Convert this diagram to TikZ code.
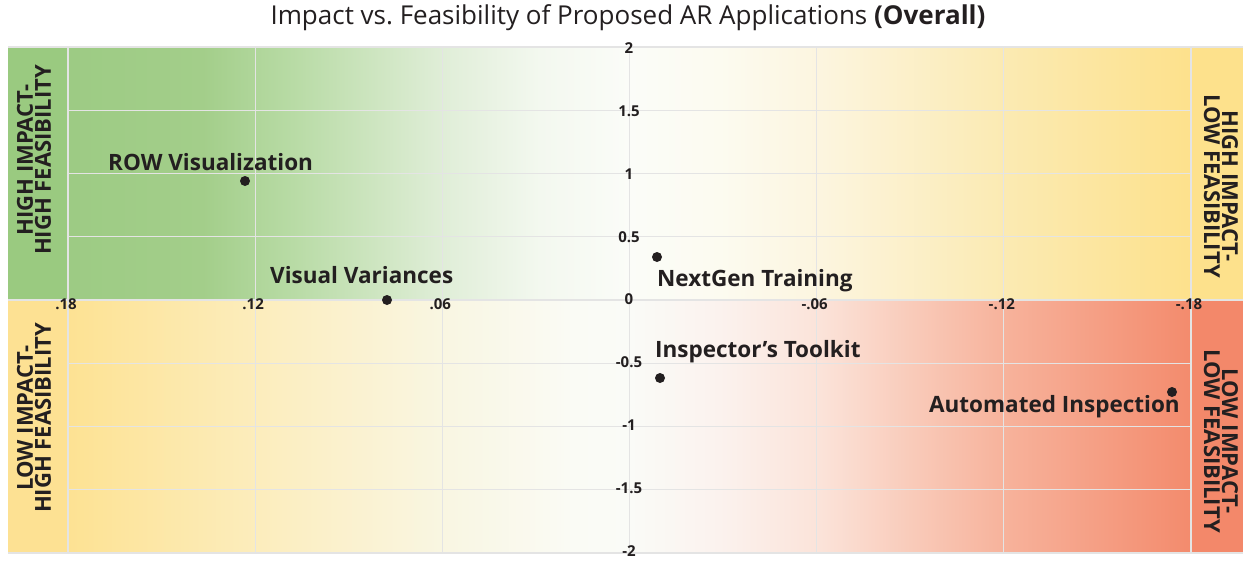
\documentclass[tikz,border=0pt]{standalone}
\usepackage{fontspec}
\setmainfont{Open Sans}
\frenchspacing

\definecolor{ink}{HTML}{231F20}
\definecolor{gridgray}{HTML}{E4E4E4}
% bands
\definecolor{hiG}{HTML}{9ACA80}
\definecolor{loY}{HTML}{FDE193}
\definecolor{hiY}{HTML}{FDE18C}
\definecolor{loR}{HTML}{F3886A}
% upper fade
\definecolor{tA}{HTML}{9DCB84}
\definecolor{tB}{HTML}{A3CE8A}
\definecolor{tC}{HTML}{B8DBA5}
\definecolor{tD}{HTML}{E0EED8}
\definecolor{tE}{HTML}{F3F8EF}
\definecolor{tF}{HTML}{FBFCF8}
\definecolor{tG}{HTML}{FCFBF0}
\definecolor{tH}{HTML}{FCF5DF}
\definecolor{tI}{HTML}{FBEAB2}
\definecolor{tJ}{HTML}{FDE18C}
% lower fade
\definecolor{bA}{HTML}{FDE293}
\definecolor{bB}{HTML}{FCEDBD}
\definecolor{bC}{HTML}{F9F6E2}
\definecolor{bD}{HTML}{FAFBF5}
\definecolor{bE}{HTML}{FAFBF7}
\definecolor{bF}{HTML}{FBF2EE}
\definecolor{bG}{HTML}{FBE3D9}
\definecolor{bH}{HTML}{F9CBBA}
\definecolor{bI}{HTML}{F7B29B}
\definecolor{bJ}{HTML}{F38B6D}

\pgfdeclarehorizontalshading{highfade}{100bp}{color(0bp)=(tA); color(25bp)=(tA);
  color(31bp)=(tB); color(35bp)=(tC); color(41.75bp)=(tD); color(46bp)=(tE);
  color(50bp)=(tF); color(54bp)=(tG); color(58.5bp)=(tH); color(66.75bp)=(tI);
  color(75bp)=(tJ); color(100bp)=(tJ)}
\pgfdeclarehorizontalshading{lowfade}{100bp}{color(0bp)=(bA); color(25bp)=(bA);
  color(33.5bp)=(bB); color(41.75bp)=(bC); color(47.5bp)=(bD); color(50bp)=(bE);
  color(54bp)=(bF); color(58.5bp)=(bG); color(62.5bp)=(bH); color(66.75bp)=(bI);
  color(75bp)=(bJ); color(100bp)=(bJ)}

\begin{document}
\begin{tikzpicture}[x=1pt,y=-1pt,
    grid/.style={draw=gridgray,line width=1.2pt},
    tick/.style={font=\bfseries\fontsize{15}{15}\selectfont,text=ink,inner sep=0pt},
    dot/.style={circle,fill=ink,inner sep=0pt,minimum size=10pt},
    app/.style={font=\bfseries\fontsize{22.5}{22.5}\selectfont,text=ink,inner sep=0pt},
    quad/.style={font=\bfseries\fontsize{22}{18}\selectfont,text=ink,align=center,inner sep=0pt}]
  \useasboundingbox (0,0) rectangle (1243,560);
  \fill[white] (0,0) rectangle (1243,560);
  %% title
  \node[font=\fontsize{26}{26}\selectfont,text=ink] (title) at (628,18)
    {Impact vs. Feasibility of Proposed AR Applications \textbf{(Overall)}};
  %% quadrant bands
  \fill[hiG] (8,47) rectangle (68,300);
  \fill[loY] (8,300) rectangle (68,553);
  \fill[hiY] (1191,47) rectangle (1243,300);
  \fill[loR] (1191,300) rectangle (1243,553);
  \shade[shading=highfade] (68,47) rectangle (1191,300);
  \shade[shading=lowfade] (68,300) rectangle (1191,553);
  %% grid
  \foreach \i in {0,...,6}{
    \draw[grid] ({68+187.17*\i},47) -- ({68+187.17*\i},553);
  }
  \foreach \i in {1,...,7}{
    \draw[grid] (68,{47+63.25*\i}) -- (1191,{47+63.25*\i});
  }
  \draw[grid] (8,47) -- (1243,47);
  \draw[grid] (8,300) -- (1243,300);
  \draw[grid] (8,553) -- (1243,553);
  %% feasibility ticks
  \foreach \i/\t in {0/.18,1/.12,2/.06,4/-.06,5/-.12,6/-.18}{
    \node[tick] (x\i) at ({66+187.17*\i},304) {\t};
  }
  %% impact ticks
  \foreach \i/\t in {0/2,1/1.5,2/1,3/0.5,4/0,5/-0.5,6/-1,7/-1.5,8/-2}{
    \node[tick] (y\i) at (629,{48+62.9*\i}) {\t};
  }
  %% quadrant names
  \node[quad,rotate=90] (hihf) at (34,160) {HIGH IMPACT-\\HIGH FEASIBILITY};
  \node[quad,rotate=90] (lohf) at (34,418) {LOW IMPACT-\\HIGH FEASIBILITY};
  \node[quad,rotate=-90] (hilf) at (1221,186) {HIGH IMPACT-\\LOW FEASIBILITY};
  \node[quad,rotate=-90] (lolf) at (1221,441) {LOW IMPACT-\\LOW FEASIBILITY};
  %% applications
  \node[dot] (row) at (245,181) {};
  \node[app,anchor=west] (rowlbl) at (108,162) {ROW Visualization};
  \node[dot] (vis) at (387,300) {};
  \node[app,anchor=west] (vislbl) at (270,275) {Visual Variances};
  \node[dot] (ngt) at (657,257) {};
  \node[app,anchor=west] (ngtlbl) at (657,281) {NextGen Training};
  \node[dot] (ins) at (660,378) {};
  \node[app,anchor=west] (inslbl) at (655,352) {Inspector’s Toolkit};
  \node[dot] (aut) at (1172,392) {};
  \node[app,anchor=east] (autlbl) at (1180,407) {Automated Inspection};
\end{tikzpicture}
\end{document}
